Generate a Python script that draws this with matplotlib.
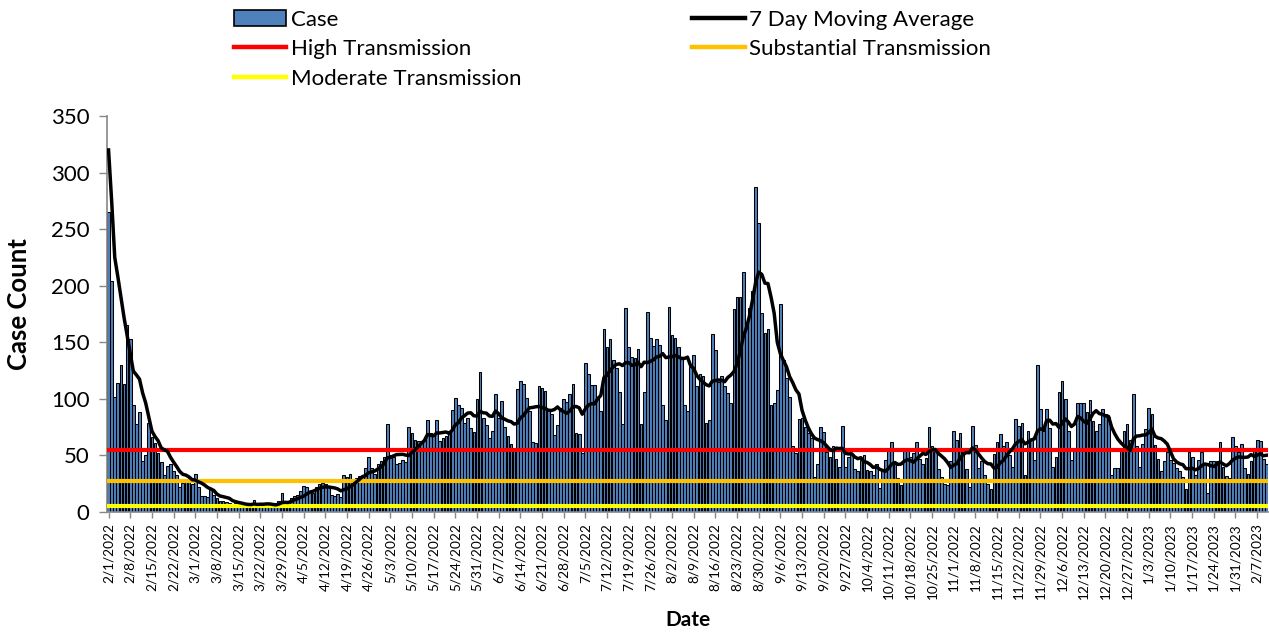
import matplotlib
matplotlib.use('Agg')
import matplotlib.pyplot as plt
import numpy as np
import pandas as pd
from matplotlib.patches import Patch
from matplotlib.lines import Line2D

# ---------------- data ----------------
start_date = '2022-02-01'
cases = [
    265, 204, 102, 114, 130, 113, 165,
    153, 95, 78, 88, 45, 50, 79,
    66, 61, 52, 44, 33, 41, 42,
    36, 33, 22, 26, 28, 30, 25,
    34, 22, 14, 14, 13, 21, 15,
    12, 10, 10, 9, 8, 7, 8,
    7, 6, 5, 6, 7, 11, 5,
    8, 6, 7, 6, 4, 8, 10,
    17, 8, 6, 12, 14, 15, 19,
    23, 22, 18, 17, 22, 25, 26,
    25, 22, 15, 14, 16, 13, 33,
    31, 34, 28, 30, 32, 31, 39,
    49, 39, 34, 42, 45, 49, 78,
    50, 49, 42, 43, 46, 44, 75,
    70, 64, 63, 62, 64, 81, 70,
    68, 81, 63, 65, 67, 72, 90,
    101, 95, 92, 79, 83, 74, 71,
    100, 124, 83, 77, 65, 72, 104,
    83, 98, 75, 67, 60, 57, 109,
    116, 113, 101, 89, 62, 61, 111,
    110, 107, 90, 87, 68, 77, 92,
    100, 97, 104, 113, 70, 69, 52,
    132, 122, 112, 112, 102, 89, 162,
    146, 153, 134, 127, 106, 78, 180,
    146, 137, 136, 144, 78, 106, 177,
    154, 147, 153, 148, 95, 81, 181,
    156, 154, 146, 137, 95, 89, 128,
    139, 111, 122, 120, 79, 81, 157,
    143, 115, 120, 111, 105, 96, 179,
    190, 190, 212, 165, 180, 195, 287,
    255, 176, 158, 162, 95, 96, 108,
    184, 134, 118, 102, 58, 52, 82,
    83, 75, 70, 65, 31, 42, 75,
    71, 53, 49, 58, 47, 40, 76,
    40, 49, 51, 38, 36, 46, 50,
    37, 36, 33, 42, 21, 38, 46,
    55, 62, 42, 30, 24, 55, 56,
    49, 52, 62, 47, 42, 48, 75,
    58, 55, 38, 31, 25, 24, 45,
    72, 64, 70, 55, 38, 22, 76,
    59, 39, 45, 33, 25, 20, 51,
    62, 69, 58, 62, 50, 40, 82,
    76, 79, 33, 72, 64, 46, 130,
    91, 72, 91, 74, 40, 49, 106,
    116, 100, 72, 46, 55, 96, 96,
    96, 88, 99, 80, 72, 78, 91,
    87, 84, 33, 39, 39, 55, 72,
    78, 64, 104, 58, 40, 60, 73,
    92, 87, 59, 47, 36, 45, 53,
    46, 43, 39, 36, 31, 20, 53,
    49, 33, 46, 53, 43, 17, 45,
    45, 45, 62, 40, 32, 30, 66,
    58, 53, 60, 39, 34, 45, 56,
    64, 63, 47, 42,
]
# last six days of January 2022 (needed for the trailing 7-day average)
jan_tail = [519, 452, 233, 256, 239, 276]

high_level = 54.8
substantial_level = 27.4
moderate_level = 5.48

legend_labels = ['Case', '7 Day Moving Average', 'High Transmission',
                 'Substantial Transmission', 'Moderate Transmission']

# ---------------- derived ----------------
dates = pd.date_range(start_date, periods=len(cases), freq='D')
moving_avg = pd.Series(jan_tail + cases).rolling(7).mean().iloc[len(jan_tail):].to_numpy()
x = np.arange(len(cases))

plt.rcParams['font.family'] = ['Lato', 'DejaVu Sans']

W, H = 1269, 636
fig = plt.figure(figsize=(W / 100, H / 100), dpi=100)
ax = fig.add_axes([107 / W, (H - 512) / H, (1268 - 107) / W, (512 - 116) / H])

ax.bar(x, cases, width=0.88, color='#4F81BD', edgecolor='black', linewidth=0.75, zorder=2)
ax.axhline(high_level, color='#FF0000', lw=3.0, zorder=3)
ax.axhline(substantial_level, color='#FFC000', lw=3.0, zorder=3)
ax.axhline(moderate_level, color='#FFFF00', lw=3.0, zorder=3)
ax.plot(x, moving_avg, color='black', lw=2.5, zorder=4, solid_joinstyle='round')

ax.set_xlim(-0.5, len(cases) - 0.5)
ax.set_ylim(0, 350)
ax.set_yticks(np.arange(0, 351, 50))
ax.tick_params(axis='y', labelsize=16, length=6, color='#888888', width=1, pad=6.5)

tick_idx = x[::7]
ax.set_xticks(tick_idx)
ax.set_xticklabels([f"{d.month}/{d.day}/{d.year}" for d in dates[::7]], rotation=90, fontsize=9.8)
ax.tick_params(axis='x', length=4, color='#888888', width=1, pad=4)

for s in ['top', 'right']:
    ax.spines[s].set_visible(False)
for s in ['left', 'bottom']:
    ax.spines[s].set_color('#888888')
    ax.spines[s].set_linewidth(1.2)

fig.text(19 / W, 1 - 304 / H, 'Case Count', rotation=90, ha='center', va='center',
         fontsize=18.5, fontweight='bold')
fig.text(688 / W, 1 - 620 / H, 'Date', ha='center', va='center', fontsize=15, fontweight='bold')

handles = [
    Patch(facecolor='#4F81BD', edgecolor='black', linewidth=1.2),
    Line2D([], [], color='#FF0000', lw=3.2),
    Line2D([], [], color='#FFFF00', lw=3.2),
    Line2D([], [], color='black', lw=3.2),
    Line2D([], [], color='#FFC000', lw=3.2),
]
labels = [legend_labels[0], legend_labels[2], legend_labels[4], legend_labels[1], legend_labels[3]]
fig.legend(handles, labels, ncol=2, loc='upper left', bbox_to_anchor=(234 / W, 1 - 10 / H),
           frameon=False, fontsize=16, handlelength=2.35, handleheight=0.75, handletextpad=0.2,
           labelspacing=0.42, columnspacing=7.7, borderpad=0, borderaxespad=0)

fig.savefig('out.png', dpi=100)
